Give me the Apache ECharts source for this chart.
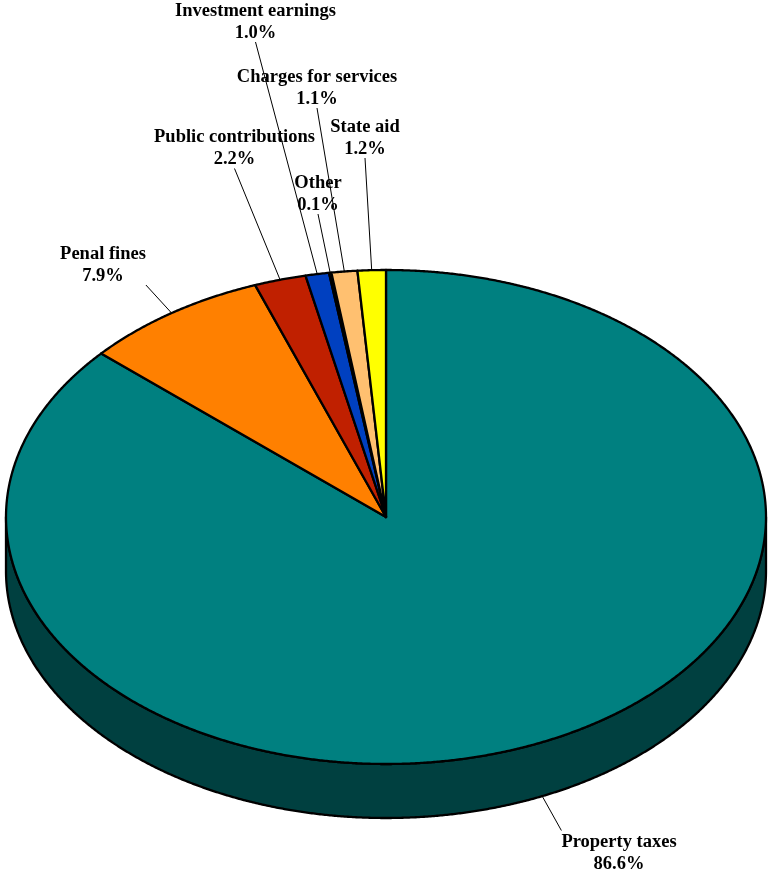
<!DOCTYPE html>
<html><head><meta charset="utf-8">
<script src="https://cdn.jsdelivr.net/npm/echarts@6/dist/echarts.min.js"></script>
<style>html,body{margin:0;padding:0;background:#fff}#chart{width:768px;height:873px}</style>
</head><body><div id="chart"></div>
<script>
// ---- data ----
const categories = ['Property taxes', 'Penal fines', 'Public contributions', 'Investment earnings', 'Other', 'Charges for services', 'State aid'];
const values = [86.6, 7.9, 2.2, 1.0, 0.1, 1.1, 1.2];

// ---- styles ----
const palette = ['#008080', '#FF8000', '#C02000', '#0040C0', '#808080', '#FFC070', '#FFFF00'];
const sidePalette = ['#004040', '#804000', '#601000', '#002060', '#404040', '#806038', '#808000'];
const FONT = { fontFamily: '"Liberation Serif", "Times New Roman", serif', fontWeight: 'bold', fontSize: 18.5, lineHeight: 22 };

// ---- layout ----
const PIE = { cx: 386, cy: 517, rx: 380, ry: 247, depth: 54 };
const labelPos = [[619, 853.5], [103, 265], [234.5, 148.5], [255.5, 22], [318, 194], [317, 88], [365, 138]];

const total = values.reduce((a, b) => a + b, 0);
const starts = [];
(function () { let c = 0; values.forEach(v => { starts.push(c); c += v; }); })();

function pt(t, off) {
  return [PIE.cx + PIE.rx * Math.sin(t), PIE.cy - PIE.ry * Math.cos(t) + (off || 0)];
}
function arc(a, b, off) {
  const n = Math.max(2, Math.ceil((b - a) / (Math.PI / 720)));
  const out = [];
  for (let i = 0; i <= n; i++) out.push(pt(a + (b - a) * i / n, off));
  return out;
}
function angles(i) {
  const a = starts[i] / total * Math.PI * 2;
  const b = (starts[i] + values[i]) / total * Math.PI * 2;
  return [a, b];
}

const measureCtx = document.createElement('canvas').getContext('2d');
measureCtx.font = 'bold ' + FONT.fontSize + 'px "Liberation Serif"';

const chart = echarts.init(document.getElementById('chart'), null, { renderer: 'canvas' });
const seriesData = values.map((v, i) => ({ name: categories[i], value: v }));

chart.setOption({
  animation: false,
  backgroundColor: '#ffffff',
  series: [
    {
      type: 'custom',
      coordinateSystem: 'none',
      data: seriesData,
      z: 1,
      renderItem: function (params, api) {
        const i = params.dataIndex;
        const [a, b] = angles(i);
        const children = [];
        const fa = Math.max(a, Math.PI / 2), fb = Math.min(b, Math.PI * 1.5);
        if (fa < fb) {
          const top = arc(fa, fb, 0);
          const bot = arc(fa, fb, PIE.depth).reverse();
          children.push({
            type: 'polygon',
            shape: { points: top.concat(bot) },
            style: { fill: sidePalette[i], stroke: '#000', lineWidth: 2.3, lineJoin: 'round' }
          });
        }
        children.push({
          type: 'polygon',
          shape: { points: [[PIE.cx, PIE.cy]].concat(arc(a, b, 0)) },
          style: { fill: palette[i], stroke: '#000', lineWidth: 2.3, lineJoin: 'round' }
        });
        return { type: 'group', children: children };
      }
    },
    {
      type: 'custom',
      coordinateSystem: 'none',
      data: seriesData,
      z: 2,
      renderItem: function (params, api) {
        const i = params.dataIndex;
        const [a, b] = angles(i);
        const m = (a + b) / 2;
        const anchor = pt(m, Math.cos(m) < 0 ? PIE.depth : 0);
        const text = categories[i] + '\n' + api.value(0).toFixed(1) + '%';
        const [lx, ly] = labelPos[i];
        const w = Math.max(measureCtx.measureText(categories[i]).width, measureCtx.measureText(api.value(0).toFixed(1) + '%').width);
        const left = lx - w / 2, right = lx + w / 2, topY = ly - 23, botY = ly + 20;
        const sx = anchor[0] < left ? left : (anchor[0] > right ? right : lx);
        const sy = anchor[1] < topY ? topY : (anchor[1] > botY ? botY : ly);
        return {
          type: 'group',
          children: [
            { type: 'line', shape: { x1: sx, y1: sy, x2: anchor[0], y2: anchor[1] }, style: { stroke: '#000', lineWidth: 1 } },
            {
              type: 'text', x: lx, y: ly,
              style: {
                text: text, align: 'center', verticalAlign: 'middle',
                fill: '#000', fontFamily: FONT.fontFamily, fontWeight: FONT.fontWeight,
                fontSize: FONT.fontSize, lineHeight: FONT.lineHeight
              }
            }
          ]
        };
      }
    }
  ]
});
</script>
</body></html>
